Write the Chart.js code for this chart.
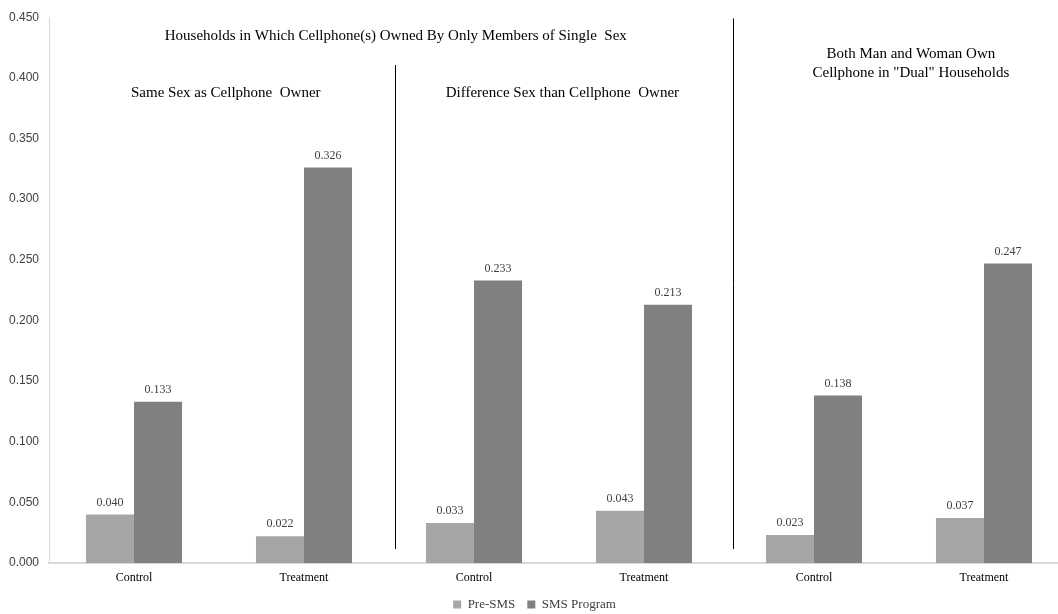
<!DOCTYPE html>
<html>
<head>
<meta charset="utf-8">
<script src="https://cdn.jsdelivr.net/npm/chart.js@4/dist/chart.umd.min.js"></script>
<style>
  html, body { margin: 0; padding: 0; background: #fff; overflow: hidden; width: 1058px; height: 614px; }
  #wrap { width: 1075px; height: 614px; }
</style>
</head>
<body>
<div id="wrap"><canvas id="c" width="1075" height="614"></canvas></div>
<script>
const categories = ["Control", "Treatment", "Control", "Treatment", "Control", "Treatment"];
const preSMS = [0.040, 0.022, 0.033, 0.043, 0.023, 0.037];
const smsProgram = [0.133, 0.326, 0.233, 0.213, 0.138, 0.247];
const seriesNames = ["Pre-SMS", "SMS Program"];
const yTicksMax = 0.45;
const yTickStep = 0.05;

const dividers = [
  { at: 1.535, fromValue: 0.0115, toValue: 0.4106 },
  { at: 3.525, fromValue: 0.0115, toValue: 0.449 }
];
const notes = [
  { lines: ["Households in Which Cellphone(s) Owned By Only Members of Single  Sex"], at: 1.54, value: 0.4344 },
  { lines: ["Same Sex as Cellphone  Owner"], at: 0.54, value: 0.3876 },
  { lines: ["Difference Sex than Cellphone  Owner"], at: 2.52, value: 0.3876 },
  { lines: ["Both Man and Woman Own", "Cellphone in \"Dual\" Households"], at: 4.57, value: 0.4196 }
];

const serif = "'Liberation Serif', 'Times New Roman', serif";
const sans = "'Liberation Sans', Arial, sans-serif";

const overlay = {
  id: 'overlay',
  afterDatasetsDraw(chart) {
    const ctx = chart.ctx;
    const xs = chart.scales.x, ys = chart.scales.y;
    ctx.save();
    ctx.font = "12px " + serif;
    ctx.fillStyle = "#404040";
    ctx.textAlign = "center";
    ctx.textBaseline = "bottom";
    chart.data.datasets.forEach((ds, di) => {
      const meta = chart.getDatasetMeta(di);
      meta.data.forEach((bar, i) => {
        ctx.fillText(ds.data[i].toFixed(3), bar.x, bar.y - 6);
      });
    });
    ctx.strokeStyle = "#000";
    ctx.lineWidth = 1;
    dividers.forEach(d => {
      const x = Math.round(xs.getPixelForValue(d.at)) + 0.5;
      ctx.beginPath();
      ctx.moveTo(x, ys.getPixelForValue(d.fromValue));
      ctx.lineTo(x, ys.getPixelForValue(d.toValue));
      ctx.stroke();
    });
    ctx.font = "15px " + serif;
    ctx.fillStyle = "#000";
    ctx.textBaseline = "middle";
    notes.forEach(n => {
      const x = xs.getPixelForValue(n.at);
      const y0 = ys.getPixelForValue(n.value);
      n.lines.forEach((t, k) => ctx.fillText(t, x, y0 + k * 19));
    });
    ctx.restore();
  }
};

new Chart(document.getElementById('c'), {
  type: 'bar',
  data: {
    labels: categories,
    datasets: [
      { label: seriesNames[0], data: preSMS, backgroundColor: '#a6a6a6', borderWidth: 0 },
      { label: seriesNames[1], data: smsProgram, backgroundColor: '#808080', borderWidth: 0 }
    ]
  },
  options: {
    responsive: false,
    animation: false,
    layout: { padding: { top: 1, right: 6, left: 0, bottom: 0 } },
    datasets: { bar: { categoryPercentage: 0.565, barPercentage: 1.0 } },
    plugins: {
      legend: {
        position: 'bottom',
        maxHeight: 28,
        labels: {
          boxWidth: 8, boxHeight: 8, padding: 12,
          color: '#404040',
          font: { family: serif, size: 13 }
        }
      },
      tooltip: { enabled: false }
    },
    scales: {
      x: {
        grid: { display: false, drawTicks: false },
        border: { color: '#d9d9d9', width: 2 },
        afterFit(scale) { scale.height = 23; },
        ticks: { color: '#000', font: { family: serif, size: 12 }, padding: 8 }
      },
      y: {
        min: 0, max: yTicksMax,
        grid: { display: false, drawTicks: false },
        border: { color: '#d9d9d9', width: 1 },
        afterFit(scale) { scale.width = 49; },
        ticks: {
          stepSize: yTickStep,
          color: '#404040',
          padding: 10,
          font: { family: sans, size: 12 },
          callback: v => Number(v).toFixed(3)
        }
      }
    }
  },
  plugins: [overlay]
});
</script>
</body>
</html>
